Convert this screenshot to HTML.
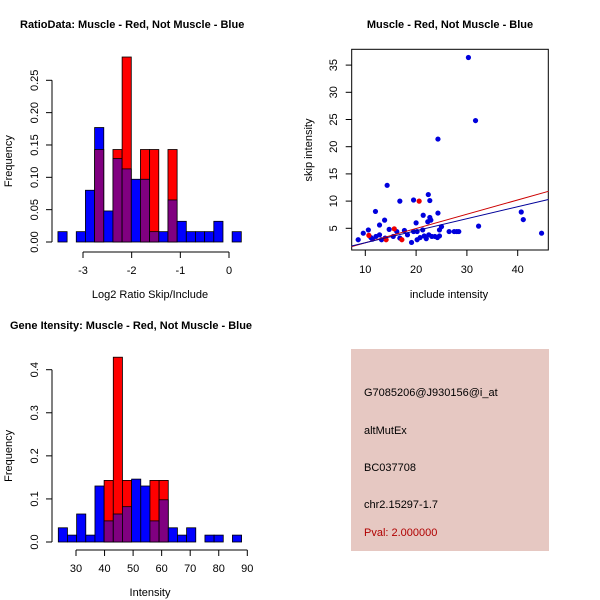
<!DOCTYPE html>
<html><head><meta charset="utf-8"><style>
body{margin:0;background:#fff}
svg{display:block;font-family:"Liberation Sans",sans-serif}
text{font-size:11px}
</style></head><body>
<svg id="c" width="600" height="600" viewBox="0 0 600 600">
<rect width="600" height="600" fill="#fff"/>
<g id="p1"></g>
<g id="p2"></g>
<g id="p3"></g>
<g>
<rect x="351" y="349" width="198" height="202" fill="#e6c8c2"/>
<text x="364" y="396">G7085206@J930156@i_at</text>
<text x="364" y="434">altMutEx</text>
<text x="364" y="471">BC037708</text>
<text x="364" y="508">chr2.15297-1.7</text>
<text x="364" y="536" fill="#b00000">Pval: 2.000000</text>
</g>
</svg>
<script>
// Ratio histogram data
const ratioStart = -3.515, ratioWidth = 0.1884;
const ratioBlue = [0.016,0,0.016,0.08,0.177,0.048,0.129,0.113,0.097,0.097,0.016,0.016,0.065,0.032,0.016,0.016,0.016,0.032,0,0.016];
const ratioRed  = [0,0,0,0,0.143,0,0.143,0.286,0,0.143,0.143,0,0.143,0,0,0,0,0,0,0];
const ratioXTicks = [-3,-2,-1,0];
const ratioYTicks = [0,0.05,0.10,0.15,0.20,0.25];
const ratioYLabels = ["0.00","0.05","0.10","0.15","0.20","0.25"];
// Intensity histogram data
const intStart = 23.8, intWidth = 3.21;
const intBlue = [0.033,0.016,0.065,0.016,0.13,0.049,0.065,0.082,0.146,0.13,0.049,0.098,0.033,0.016,0.033,0,0.016,0.016,0,0.016];
const intRed  = [0,0,0,0,0,0.143,0.429,0.143,0,0,0.143,0.143,0,0,0,0,0,0,0,0];
const intXTicks = [30,40,50,60,70,80,90];
const intYTicks = [0,0.1,0.2,0.3,0.4];
const intYLabels = ["0.0","0.1","0.2","0.3","0.4"];
// Scatter data
const scatX = [30.3,31.7,24.3,14.3,16.8,19.5,22.4,22.7,12.0,12.8,13.8,21.4,20.0,24.3,22.7,22.3,22.9,25.0,24.6,9.6,10.6,8.6,11.1,11.4,12.8,13.2,13.9,14.7,15.5,16.2,16.8,17.7,18.3,19.1,19.5,20.2,20.2,20.8,21.3,21.6,22.0,22.5,23.1,23.7,24.2,24.6,26.5,27.5,28.0,28.4,32.3,40.7,41.1,44.7,12.1];
const scatY = [36.4,24.8,21.4,12.9,10.0,10.2,11.2,10.1,8.1,5.6,6.5,7.4,6.0,7.8,7.0,6.2,6.5,5.3,4.7,4.1,4.7,2.9,3.3,3.0,3.8,2.9,3.2,4.8,3.5,4.4,3.2,4.6,3.8,2.4,4.4,4.4,2.9,3.3,4.7,3.6,3.1,3.8,3.5,3.5,3.3,3.6,4.4,4.4,4.4,4.4,5.4,8.0,6.6,4.1,3.5];
const redX = [20.6,10.7,15.7,14.1,17.2];
const redY = [10.0,3.7,4.9,2.9,2.9];
const redLine = [[7.3,1.63],[46.05,11.8]];
const blueLine = [[7.3,1.75],[46.05,10.3]];
const scatXTicks = [10,20,30,40];
const scatYTicks = [5,10,15,20,25,30,35];

const NS="http://www.w3.org/2000/svg";
function el(parent,tag,attrs,txt){const e=document.createElementNS(NS,tag);for(const k in attrs)e.setAttribute(k,attrs[k]);if(txt!==undefined)e.textContent=txt;parent.appendChild(e);return e;}

function hist(g,start,w,blue,red,xs,ys,yl,x0px,x1px,xv0,xv1,y0px,yv1,yv1px,xTicks,yTicks,yLabels,axisY,title,titleX,titleY,xlabel,prefix){
  const sx=v=>x0px+(v-xv0)*(x1px-x0px)/(xv1-xv0);
  const sy=v=>y0px-v*(y0px-yv1px)/yv1;
  for(let i=0;i<blue.length;i++){
    const a=start+i*w,b=a+w,bl=blue[i],rd=red[i];
    const mx=Math.max(bl,rd), mn=Math.min(bl,rd);
    if(mx<=0)continue;
    let r=el(g,'rect',{x:sx(a),y:sy(mx),width:sx(b)-sx(a),height:sy(0)-sy(mx),fill:bl>=rd?'#0000ff':'#ff0000',stroke:'#000','stroke-width':0.8});
    
    
    if(mn>0){
      r=el(g,'rect',{x:sx(a),y:sy(mn),width:sx(b)-sx(a),height:sy(0)-sy(mn),fill:'#800080',stroke:'#000','stroke-width':0.8});
      
      
    }
  }
  // y axis
  el(g,'line',{x1:52,x2:52,y1:sy(yTicks[0]),y2:sy(yTicks[yTicks.length-1]),stroke:'#000'});
  yTicks.forEach((t,i)=>{
    el(g,'line',{x1:46,x2:52,y1:sy(t),y2:sy(t),stroke:'#000'});
    const tx=el(g,'text',{x:38,y:sy(t),'text-anchor':'middle',transform:`rotate(-90 38 ${sy(t)})`},yLabels[i]);
    
    
  });
  el(g,'line',{x1:sx(xTicks[0]),x2:sx(xTicks[xTicks.length-1]),y1:axisY,y2:axisY,stroke:'#000'});
  xTicks.forEach(t=>{
    el(g,'line',{x1:sx(t),x2:sx(t),y1:axisY,y2:axisY+6,stroke:'#000'});
    const tx=el(g,'text',{x:sx(t),y:axisY+22,'text-anchor':'middle'},String(t));
    
    
  });
  let t=el(g,'text',{x:titleX,y:titleY,'font-weight':'bold','font-size':'12px'},title);
  
  
  t=el(g,'text',{x:150,y:axisY+46,'text-anchor':'middle'},xlabel);
  
  
  const yc=(sy(yTicks[0])+sy(yTicks[yTicks.length-1]))/2;
  t=el(g,'text',{x:12,y:yc,'text-anchor':'middle',transform:`rotate(-90 12 ${yc})`},'Frequency');
  
  
}
hist(document.getElementById('p1'),ratioStart,ratioWidth,ratioBlue,ratioRed,0,0,0,83,229,-3,0,242,0.25,80.3,ratioXTicks,ratioYTicks,ratioYLabels,252,'RatioData: Muscle - Red, Not Muscle - Blue',20,28,'Log2 Ratio Skip/Include','ratio');
hist(document.getElementById('p3'),intStart,intWidth,intBlue,intRed,0,0,0,76,247.3,30,90,542,0.4,369.7,intXTicks,intYTicks,intYLabels,550,'Gene Itensity: Muscle - Red, Not Muscle - Blue',10,329,'Intensity','intensity');

// scatter
(function(){
  const g=document.getElementById('p2');
  const sx=v=>365.3+(v-10)*5.08;
  const sy=v=>228.3-(v-5)*5.44;
  el(g,'rect',{x:351.7,y:49.3,width:196.6,height:200.7,fill:'none',stroke:'#000'});
  scatXTicks.forEach(t=>{
    el(g,'line',{x1:sx(t),x2:sx(t),y1:250,y2:256,stroke:'#000'});
    const tx=el(g,'text',{x:sx(t),y:273,'text-anchor':'middle'},String(t));
    
    
  });
  scatYTicks.forEach(t=>{
    el(g,'line',{x1:345.7,x2:351.7,y1:sy(t),y2:sy(t),stroke:'#000'});
    const tx=el(g,'text',{x:337,y:sy(t),'text-anchor':'middle',transform:`rotate(-90 337 ${sy(t)})`},String(t));
    
    
  });
  scatX.forEach((x,i)=>{
    const c=el(g,'circle',{cx:sx(x),cy:sy(scatY[i]),r:2.6,fill:'#0000dd'});
    
    
  });
  redX.forEach((x,i)=>{
    const c=el(g,'circle',{cx:sx(x),cy:sy(redY[i]),r:2.6,fill:'#ee0000'});
    
    
  });
  let l=el(g,'line',{x1:sx(redLine[0][0]),y1:sy(redLine[0][1]),x2:sx(redLine[1][0]),y2:sy(redLine[1][1]),stroke:'#cc0000'});
  
  
  l=el(g,'line',{x1:sx(blueLine[0][0]),y1:sy(blueLine[0][1]),x2:sx(blueLine[1][0]),y2:sy(blueLine[1][1]),stroke:'#000099'});
  
  
  let t=el(g,'text',{x:450,y:28,'text-anchor':'middle','font-weight':'bold','font-size':'12px'},'Muscle - Red, Not Muscle - Blue');
  
  
  t=el(g,'text',{x:449,y:298,'text-anchor':'middle'},'include intensity');
  
  
  t=el(g,'text',{x:312,y:150,'text-anchor':'middle',transform:'rotate(-90 312 150)'},'skip intensity');
  
  
})();
</script>
</body></html>
